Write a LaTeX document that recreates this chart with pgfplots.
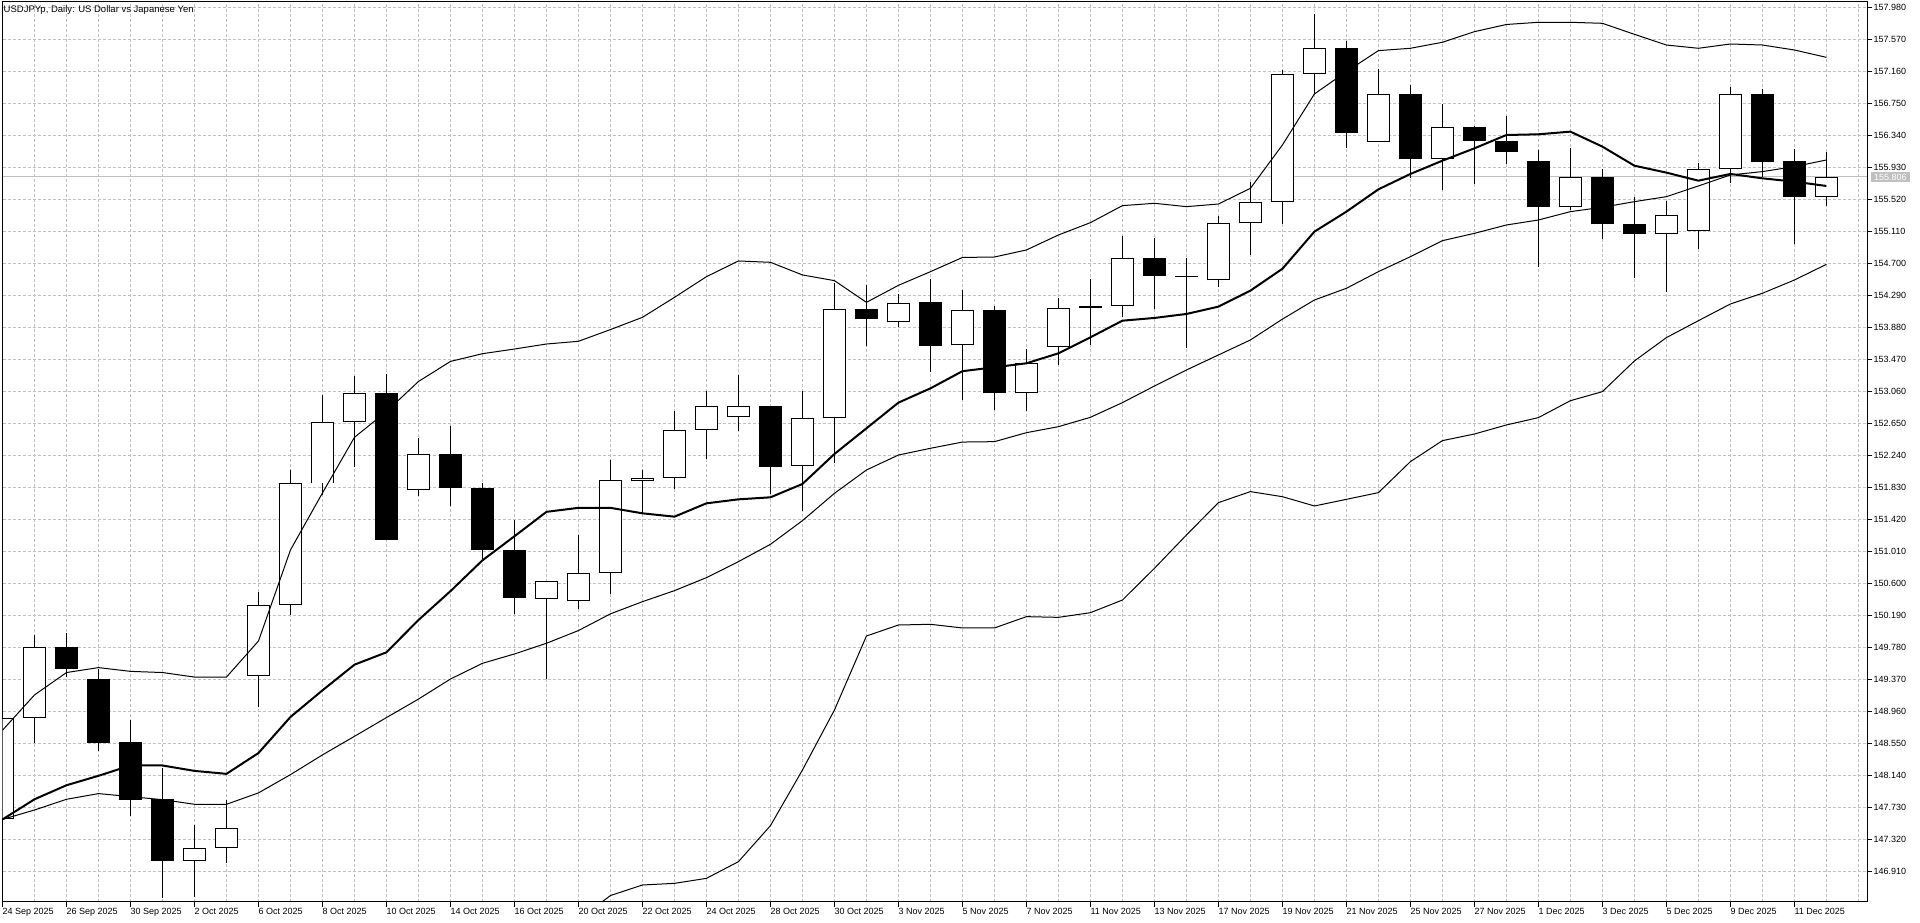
\documentclass[border=0pt]{standalone}
\usepackage{fontspec}
\setmainfont{Liberation Sans}
\usepackage{pgfplots}
\pgfplotsset{compat=1.18}
\usepackage{pgfplotstable}
\definecolor{gridgray}{RGB}{192,192,192}
\definecolor{pricegray}{RGB}{192,192,192}

% wicks: high / low of each daily bar (0 = 24 Sep 2025)
\pgfplotstableread{
i H L
0 149.05 147.45
1 149.934 148.548
2 149.958 149.399
3 149.506 148.45
4 148.849 147.623
5 148.231 146.568
6 147.502 146.582
7 147.818 147.015
8 150.483 149.01
9 152.05 150.192
10 153.013 151.729
11 153.251 152.094
12 153.285 151.15
13 152.462 151.717
14 152.617 151.589
15 151.88 150.895
16 151.409 150.201
17 150.63 149.374
18 151.216 150.265
19 152.18 150.466
20 152.051 151.494
21 152.812 151.804
22 153.064 152.197
23 153.269 152.556
24 152.87 151.745
25 153.064 151.531
26 154.452 152.146
27 154.422 153.645
28 154.303 153.889
29 154.495 153.303
30 154.358 152.949
31 154.153 152.821
32 153.602 152.808
33 154.26 153.397
34 154.499 153.654
35 155.054 154.008
36 155.029 154.111
37 154.764 153.611
38 155.306 154.401
39 155.738 154.807
40 157.18 155.21
41 157.895 156.865
42 157.553 156.182
43 157.19 156.25
44 156.985 155.798
45 156.741 155.64
46 156.46 155.712
47 156.588 155.973
48 156.152 154.657
49 156.182 155.383
50 155.904 155.008
51 155.546 154.508
52 155.499 154.337
53 155.981 154.879
54 156.955 155.734
55 156.934 155.81
56 156.161 154.943
57 156.126 155.435
}\wicks

% rising bars: open, close
\pgfplotstableread{
i O C
0 147.585 148.878
1 148.878 149.778
6 147.04 147.21
7 147.21 147.463
8 149.409 150.318
9 150.318 151.889
10 151.879 152.672
11 152.664 153.037
13 151.79 152.253
17 150.402 150.625
18 150.368 150.727
19 150.727 151.923
20 151.91 151.944
21 151.945 152.565
22 152.565 152.868
23 152.727 152.868
25 152.103 152.714
26 152.714 154.111
28 153.944 154.196
30 153.649 154.098
32 153.043 153.419
33 153.624 154.132
35 154.149 154.764
38 154.482 155.213
39 155.213 155.49
40 155.482 157.126
41 157.126 157.455
43 156.25 156.865
45 156.033 156.443
49 155.418 155.802
52 155.072 155.315
53 155.114 155.904
54 155.904 156.865
57 155.554 155.806
}\whitebody

% falling bars: open, close
\pgfplotstableread{
i O C
2 149.778 149.496
3 149.374 148.557
4 148.562 147.828
5 147.837 147.04
12 153.037 151.16
14 152.253 151.816
15 151.824 151.032
16 151.032 150.41
24 152.868 152.095
27 154.111 153.983
29 154.2 153.645
31 154.102 153.043
34 154.152 154.132
36 154.764 154.542
37 154.542 154.524
42 157.455 156.366
44 156.865 156.033
46 156.443 156.263
47 156.263 156.131
48 156.007 155.418
50 155.802 155.2
51 155.2 155.072
55 156.865 156.003
56 156.007 155.554
}\blackbody

% U = upper band, M = middle band, T = thick moving average
\pgfplotstableread{
i U M T
0 148.718 147.575 147.575
1 149.17 147.696 147.833
2 149.457 147.833 148.013
3 149.52 147.906 148.134
4 149.472 147.867 148.266
5 149.457 147.828 148.266
6 149.399 147.769 148.197
7 149.399 147.769 148.159
8 149.861 147.915 148.426
9 151.028 148.149 148.888
10 151.758 148.402 149.229
11 152.471 148.64 149.558
12 152.801 148.88 149.716
13 153.186 149.117 150.13
14 153.443 149.374 150.5
15 153.542 149.575 150.895
16 153.602 149.695 151.203
17 153.666 149.832 151.516
18 153.701 149.995 151.567
19 153.851 150.209 151.567
20 154.008 150.365 151.497
21 154.264 150.506 151.454
22 154.529 150.673 151.625
23 154.73 150.878 151.676
24 154.713 151.1 151.702
25 154.551 151.403 151.873
26 154.478 151.753 152.257
27 154.2 152.052 152.586
28 154.418 152.244 152.915
29 154.593 152.33 153.098
30 154.775 152.41 153.318
31 154.781 152.415 153.368
32 154.871 152.53 153.419
33 155.063 152.607 153.547
34 155.221 152.727 153.752
35 155.439 152.915 153.965
36 155.469 153.128 154.0
37 155.426 153.333 154.051
38 155.46 153.526 154.145
39 155.661 153.718 154.35
40 156.216 153.985 154.63
41 156.87 154.23 155.106
42 157.156 154.38 155.362
43 157.425 154.593 155.648
44 157.455 154.785 155.845
45 157.532 154.99 156.015
46 157.668 155.084 156.173
47 157.76 155.191 156.344
48 157.788 155.255 156.353
49 157.788 155.362 156.387
50 157.775 155.418 156.195
51 157.634 155.49 155.951
52 157.497 155.554 155.862
53 157.455 155.691 155.759
54 157.51 155.832 155.845
55 157.497 155.875 155.789
56 157.433 155.939 155.746
57 157.339 156.024 155.691
}\bands

% lower band (visible part)
\pgfplotstableread{
i Lo
18 146.29
19 146.6
20 146.735
21 146.756
22 146.82
23 147.034
24 147.495
25 148.208
26 148.977
27 149.925
28 150.066
29 150.075
30 150.028
31 150.028
32 150.173
33 150.164
34 150.224
35 150.386
36 150.792
37 151.219
38 151.634
39 151.775
40 151.71
41 151.591
42 151.676
43 151.762
44 152.159
45 152.428
46 152.513
47 152.629
48 152.723
49 152.94
50 153.056
51 153.449
52 153.748
53 153.965
54 154.179
55 154.316
56 154.486
57 154.687
}\lowband

\begin{document}
\begin{tikzpicture}
\path[use as bounding box] (0pt,0pt) rectangle (1920pt,923pt);
\begin{axis}[
  at={(2.5pt,21.3pt)}, anchor=south west,
  scale only axis, width=1864.8pt, height=900pt,
  xmin=0, xmax=58.28, ymin=146.521, ymax=158.052,
  axis line style={black, line width=1pt},
  tick style={black, line width=1pt},
  tick align=outside,
  major tick length=5pt,
  minor tick length=0pt,
  xtick pos=left, ytick pos=right,
  yticklabel pos=right,
  xtick={0,2,...,56},
  xticklabels={24 Sep 2025,26 Sep 2025,30 Sep 2025,2 Oct 2025,6 Oct 2025,8 Oct 2025,10 Oct 2025,14 Oct 2025,16 Oct 2025,20 Oct 2025,22 Oct 2025,24 Oct 2025,28 Oct 2025,30 Oct 2025,3 Nov 2025,5 Nov 2025,7 Nov 2025,11 Nov 2025,13 Nov 2025,17 Nov 2025,19 Nov 2025,21 Nov 2025,25 Nov 2025,27 Nov 2025,1 Dec 2025,3 Dec 2025,5 Dec 2025,9 Dec 2025,11 Dec 2025},
  minor xtick={1,3,...,57,58},
  ytick={146.91,147.32,147.73,148.14,148.55,148.96,149.37,149.78,150.19,150.60,151.01,151.42,151.83,152.24,152.65,153.06,153.47,153.88,154.29,154.70,155.11,155.52,155.93,156.34,156.75,157.16,157.57,157.98},
  yticklabels={146.910,147.320,147.730,148.140,148.550,148.960,149.370,149.780,150.190,150.600,151.010,151.420,151.830,152.240,152.650,153.060,153.470,153.880,154.290,154.700,155.110,155.520,155.930,156.340,156.750,157.160,157.570,157.980},
  grid=both,
  major grid style={gridgray, dash pattern=on 3pt off 2pt, line width=1pt},
  minor grid style={gridgray, dash pattern=on 3pt off 2pt, line width=1pt},
  xticklabel style={anchor=north west, inner sep=0pt, yshift=-1pt, font=\fontsize{9}{10}\selectfont},
  yticklabel style={anchor=west, inner sep=0pt, xshift=1pt, font=\fontsize{9}{10}\selectfont},
  extra y ticks={155.806},
  extra y tick labels={155.806},
  extra y tick style={grid=major, major grid style={solid, gridgray, line width=1pt}, major tick length=0pt,
     yticklabel style={fill=pricegray, text=white, inner xsep=3pt, inner ysep=2pt, xshift=2.5pt}},
  candle/.style={draw=none, no markers, forget plot,
     error bars/y dir=plus, error bars/y explicit, error bars/error mark=none},
]
% wicks
\addplot[candle, error bars/error bar style={draw=black, solid, line width=1pt}]
  table[x=i, y=L, y error expr=\thisrow{H}-\thisrow{L}] {\wicks};
% falling bodies
\addplot[candle, error bars/error bar style={draw=black, solid, line width=23pt}]
  table[x=i, y=C, y error expr=\thisrow{O}-\thisrow{C}] {\blackbody};
% rising bodies: outline then white fill
\addplot[candle, error bars/error bar style={draw=black, solid, line width=23pt}]
  table[x=i, y=O, y error expr=\thisrow{C}-\thisrow{O}] {\whitebody};
\addplot[candle, error bars/error bar style={draw=white, solid, line width=21pt}]
  table[x=i, y expr=\thisrow{O}+0.0128, y error expr=\thisrow{C}-\thisrow{O}-0.0256] {\whitebody};
% indicator lines
\addplot[black, line width=1pt, mark=none] table[x=i, y=U] {\bands};
\addplot[black, line width=1pt, mark=none] table[x=i, y=M] {\bands};
\addplot[black, line width=1pt, mark=none] table[x=i, y=Lo] {\lowband};
\addplot[black, line width=2pt, mark=none] table[x=i, y=T] {\bands};
\end{axis}
\node[anchor=base west, inner sep=0pt, font=\fontsize{9.5}{11}\selectfont] at (3.5pt,910pt) {USDJPYp, Daily:  US Dollar vs Japanese Yen};
\end{tikzpicture}
\end{document}
